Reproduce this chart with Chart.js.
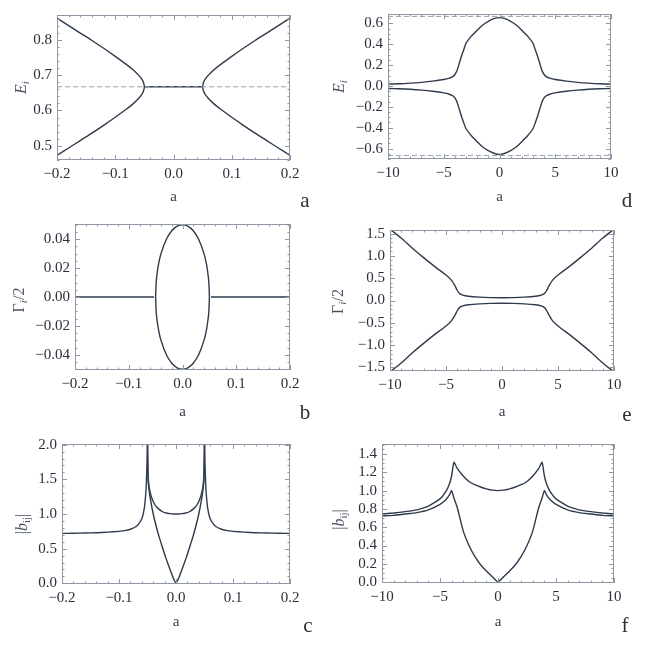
<!DOCTYPE html>
<html><head><meta charset="utf-8">
<script src="https://cdn.jsdelivr.net/npm/chart.js@4.4.0/dist/chart.umd.min.js"></script>
<style>
body{margin:0;background:#fff;width:654px;height:654px;position:relative;overflow:hidden}
canvas{position:absolute}
.lab{position:absolute;font-family:"Liberation Serif","Times New Roman",serif;font-size:21px;color:#2a2f3a;transform:translate(-50%,-50%);line-height:1}
</style></head><body>
<canvas id="pa" width="327" height="210" style="left:0;top:0;width:327px;height:210px"></canvas>
<canvas id="pb" width="327" height="215" style="left:0;top:210px;width:327px;height:215px"></canvas>
<canvas id="pc" width="327" height="205" style="left:0;top:430px;width:327px;height:205px"></canvas>
<canvas id="pd" width="327" height="210" style="left:327px;top:0;width:327px;height:210px"></canvas>
<canvas id="pe" width="327" height="215" style="left:327px;top:210px;width:327px;height:215px"></canvas>
<canvas id="pf" width="327" height="205" style="left:327px;top:430px;width:327px;height:205px"></canvas>
<div class="lab" style="left:305px;top:200px">a</div>
<div class="lab" style="left:305px;top:412px">b</div>
<div class="lab" style="left:308px;top:625px">c</div>
<div class="lab" style="left:627px;top:200px">d</div>
<div class="lab" style="left:627px;top:414px">e</div>
<div class="lab" style="left:625px;top:625px">f</div>
<script>
// ---------- tick labels ----------
const xTicksSmall = [-0.2,-0.1,0.0,0.1,0.2];
const xTicksLarge = [-10,-5,0,5,10];
const yTicksA = [0.5,0.6,0.7,0.8];
const yTicksB = [-0.04,-0.02,0.00,0.02,0.04];
const yTicksC = [0.0,0.5,1.0,1.5,2.0];
const yTicksD = [-0.6,-0.4,-0.2,0.0,0.2,0.4,0.6];
const yTicksE = [-1.5,-1.0,-0.5,0.0,0.5,1.0,1.5];
const yTicksF = [0.0,0.2,0.4,0.6,0.8,1.0,1.2,1.4];

// ---------- panel a : E_i ----------
const aLeftX = [-0.2,-0.18,-0.16,-0.14,-0.12,-0.10,-0.08,-0.07,-0.06,-0.055,-0.052,-0.05,-0.052,-0.055,-0.06,-0.07,-0.08,-0.10,-0.12,-0.14,-0.16,-0.18,-0.2];
const aLeftE = [0.861,0.840,0.819,0.798,0.776,0.753,0.729,0.716,0.700,0.690,0.681,0.667,0.653,0.644,0.634,0.618,0.605,0.581,0.558,0.536,0.515,0.494,0.473];
const aRightX = [0.2,0.18,0.16,0.14,0.12,0.10,0.08,0.07,0.06,0.055,0.052,0.05,0.052,0.055,0.06,0.07,0.08,0.10,0.12,0.14,0.16,0.18,0.2];
const aRightE = [0.861,0.840,0.819,0.798,0.776,0.753,0.729,0.716,0.700,0.690,0.681,0.667,0.653,0.644,0.634,0.618,0.605,0.581,0.558,0.536,0.515,0.494,0.473];
const aMidX = [-0.05,0.05];
const aMidE = [0.667,0.667];
const aRefX = [-0.2,0.2];
const aRefE = [0.667,0.667];

// ---------- panel b : Gamma_i/2 ----------
const bLoopX = [-0.05,-0.049,-0.048,-0.045,-0.04,-0.03,-0.02,-0.01,0,0.01,0.02,0.03,0.04,0.045,0.048,0.049,0.05,0.049,0.048,0.045,0.04,0.03,0.02,0.01,0,-0.01,-0.02,-0.03,-0.04,-0.045,-0.048,-0.049,-0.05];
const bLoopG = [0,0.0099,0.014,0.0218,0.03,0.04,0.0458,0.049,0.05,0.049,0.0458,0.04,0.03,0.0218,0.014,0.0099,0,-0.0099,-0.014,-0.0218,-0.03,-0.04,-0.0458,-0.049,-0.05,-0.049,-0.0458,-0.04,-0.03,-0.0218,-0.014,-0.0099,0];
const bLeftX = [-0.2,-0.053];
const bLeftG = [0,0];
const bRightX = [0.053,0.2];
const bRightG = [0,0];

// ---------- panel c : |b_ij| ----------
const cOutLX = [-0.2,-0.18,-0.16,-0.14,-0.12,-0.10,-0.09,-0.08,-0.07,-0.065,-0.06,-0.057,-0.055,-0.053,-0.052,-0.051,-0.05];
const cOutLY = [0.72,0.722,0.725,0.73,0.738,0.75,0.76,0.78,0.82,0.86,0.93,1.02,1.12,1.3,1.45,1.7,2.0];
const cOutRX = [0.05,0.051,0.052,0.053,0.055,0.057,0.06,0.065,0.07,0.08,0.09,0.10,0.12,0.14,0.16,0.18,0.2];
const cOutRY = [2.0,1.7,1.45,1.3,1.12,1.02,0.93,0.86,0.82,0.78,0.76,0.75,0.738,0.73,0.725,0.722,0.72];
const cInX = [-0.05,-0.049,-0.047,-0.044,-0.04,-0.035,-0.03,-0.025,-0.02,-0.015,-0.01,-0.005,0,0.005,0.01,0.015,0.02,0.025,0.03,0.035,0.04,0.044,0.047,0.049,0.05];
const cInUp = [2.0,1.55,1.38,1.27,1.18,1.11,1.07,1.04,1.02,1.01,1.005,1.001,1.0,1.001,1.005,1.01,1.02,1.04,1.07,1.11,1.18,1.27,1.38,1.55,2.0];
const cInLo = [2.0,1.5,1.33,1.17,1.0,0.83,0.68,0.55,0.42,0.30,0.19,0.08,0,0.08,0.19,0.30,0.42,0.55,0.68,0.83,1.0,1.17,1.33,1.5,2.0];

// ---------- panel d : E_i ----------
const dX = [-10,-9,-8,-7,-6,-5,-4.5,-4.2,-4.0,-3.8,-3.6,-3.4,-3.2,-3.0,-2.5,-2.0,-1.5,-1.0,-0.5,0,0.5,1.0,1.5,2.0,2.5,3.0,3.2,3.4,3.6,3.8,4.0,4.2,4.5,5,6,7,8,9,10];
const dUp = [0.018,0.021,0.027,0.035,0.046,0.062,0.075,0.09,0.11,0.15,0.22,0.29,0.35,0.41,0.48,0.535,0.585,0.62,0.645,0.655,0.645,0.62,0.585,0.535,0.48,0.41,0.35,0.29,0.22,0.15,0.11,0.09,0.075,0.062,0.046,0.035,0.027,0.021,0.018];
const dLo = [-0.024,-0.027,-0.032,-0.040,-0.051,-0.066,-0.079,-0.094,-0.114,-0.155,-0.225,-0.295,-0.355,-0.41,-0.48,-0.535,-0.585,-0.62,-0.645,-0.657,-0.645,-0.62,-0.585,-0.535,-0.48,-0.41,-0.355,-0.295,-0.225,-0.155,-0.114,-0.094,-0.079,-0.066,-0.051,-0.040,-0.032,-0.027,-0.024];
const dRefX = [-10,10];
const dRefUp = [0.667,0.667];
const dRefLo = [-0.667,-0.667];

// ---------- panel e : Gamma_i/2 ----------
const eX = [-10,-9,-8,-7,-6,-5,-4.5,-4.2,-4.0,-3.8,-3.5,-3.0,-2.0,-1.0,0,1.0,2.0,3.0,3.5,3.8,4.0,4.2,4.5,5,6,7,8,9,10];
const eUp = [1.60,1.40,1.17,0.96,0.76,0.57,0.45,0.33,0.23,0.16,0.12,0.095,0.075,0.065,0.062,0.065,0.075,0.095,0.12,0.16,0.23,0.33,0.45,0.57,0.76,0.96,1.17,1.40,1.60];
const eLo = [-1.60,-1.40,-1.17,-0.96,-0.76,-0.57,-0.45,-0.33,-0.23,-0.16,-0.12,-0.095,-0.075,-0.065,-0.062,-0.065,-0.075,-0.095,-0.12,-0.16,-0.23,-0.33,-0.45,-0.57,-0.76,-0.96,-1.17,-1.40,-1.60];

// ---------- panel f : |b_ij| ----------
const fUpX = [-10,-9,-8,-7,-6,-5,-4.5,-4.2,-4.0,-3.8,-3.5,-3.0,-2.5,-2.0,-1.5,-1.0,-0.5,0,0.5,1.0,1.5,2.0,2.5,3.0,3.5,3.8,4.0,4.2,4.5,5,6,7,8,9,10];
const fUpY = [0.745,0.755,0.77,0.79,0.83,0.91,0.99,1.07,1.16,1.31,1.24,1.16,1.10,1.065,1.04,1.02,1.005,1.0,1.005,1.02,1.04,1.065,1.10,1.16,1.24,1.31,1.16,1.07,0.99,0.91,0.83,0.79,0.77,0.755,0.745];
const fLoX = [-10,-9,-8,-7,-6,-5,-4.5,-4.2,-4.0,-3.8,-3.5,-3.0,-2.5,-2.0,-1.5,-1.0,-0.5,0,0.5,1.0,1.5,2.0,2.5,3.0,3.5,3.8,4.0,4.2,4.5,5,6,7,8,9,10];
const fLoY = [0.724,0.73,0.745,0.76,0.79,0.85,0.90,0.95,1.0,0.92,0.81,0.56,0.40,0.28,0.19,0.12,0.06,0,0.06,0.12,0.19,0.28,0.40,0.56,0.81,0.92,1.0,0.95,0.90,0.85,0.79,0.76,0.745,0.73,0.724];

// ---------- styling / helpers ----------
const FONT = '"Liberation Serif","Times New Roman",serif';
const TC = '#2a2f3a';
const LC = '#2f3a4c';
const FRAME = '#8e98a4';

function pts(xs, ys){ return xs.map((x,i)=>({x:x, y:ys[i]})); }
function curve(xs, ys, extra){ return Object.assign({data:pts(xs,ys), showLine:true, pointRadius:0, borderColor:LC, borderWidth:1.4, tension:0.25, fill:false}, extra||{}); }
function dashed(xs, ys){ return curve(xs, ys, {borderColor:'#9a9ea4', borderWidth:1, borderDash:[5,3], tension:0}); }
function fmt(d){ return v => (v < -1e-9 ? '\u2212' : '') + Math.abs(v).toFixed(d); }

const deco = {
  id:'deco',
  afterDatasetsDraw(chart, args, o){
    const {ctx, chartArea:a, scales:{x, y}} = chart;
    ctx.save();
    ctx.strokeStyle = FRAME; ctx.lineWidth = 1;
    ctx.strokeRect(Math.round(a.left)+0.5, Math.round(a.top)+0.5, Math.round(a.right-a.left)-1, Math.round(a.bottom-a.top)-1);
    const seg = (x1,y1,x2,y2)=>{ ctx.beginPath(); ctx.moveTo(x1,y1); ctx.lineTo(x2,y2); ctx.stroke(); };
    const tx = (v,len)=>{ const p = Math.round(x.getPixelForValue(v))+0.5; seg(p,a.bottom,p,a.bottom-len); seg(p,a.top,p,a.top+len); };
    const ty = (v,len)=>{ const p = Math.round(y.getPixelForValue(v))+0.5; seg(a.left,p,a.left+len,p); seg(a.right,p,a.right-len,p); };
    for(let k=Math.ceil(x.min/o.xm-1e-6); k<=Math.floor(x.max/o.xm+1e-6); k++) tx(k*o.xm, 2.5);
    for(let k=Math.ceil(y.min/o.ym-1e-6); k<=Math.floor(y.max/o.ym+1e-6); k++) ty(k*o.ym, 2.5);
    x.ticks.forEach(t=>tx(t.value,5));
    y.ticks.forEach(t=>ty(t.value,5));
    // y axis label with subscripts
    ctx.translate(o.lx, (a.top+a.bottom)/2 + (o.ldy||0));
    ctx.rotate(-Math.PI/2);
    ctx.fillStyle = '#4a5468';
    ctx.textBaseline = 'middle';
    ctx.textAlign = 'left';
    const fontOf = p => (p.it ? 'italic ' : '') + (p.sub ? 11 : 16) + 'px ' + FONT;
    let w = 0;
    o.parts.forEach(p=>{ ctx.font = fontOf(p); w += ctx.measureText(p.t).width; });
    let cx = -w/2;
    o.parts.forEach(p=>{ ctx.font = fontOf(p); ctx.fillText(p.t, cx, p.sub ? 4 : 0); cx += ctx.measureText(p.t).width; });
    ctx.restore();
  }
};

function panel(id, cfg){
  return new Chart(document.getElementById(id), {
    type:'scatter',
    data:{datasets:cfg.ds},
    plugins:[deco],
    options:{
      responsive:false, animation:false,
      layout:{padding:{left:0, top:cfg.pt, right:cfg.pr, bottom:0}},
      plugins:{legend:{display:false}, tooltip:{enabled:false},
        deco:{xm:cfg.xm, ym:cfg.ym, lx:cfg.lx, ldy:cfg.ldy, parts:cfg.parts}},
      scales:{
        x:{type:'linear', min:cfg.xr[0], max:cfg.xr[1],
           afterFit:s=>{s.height=cfg.xh;},
           afterBuildTicks:s=>{s.ticks=cfg.xt.map(v=>({value:v}));},
           grid:{display:false, drawTicks:false, tickLength:0}, border:{display:false},
           ticks:{font:{family:FONT,size:15}, color:TC, padding:5, maxRotation:0, autoSkip:false, callback:fmt(cfg.xd)},
           title:{display:true, text:'a', font:{family:FONT,size:15}, color:'#3a4050', padding:{top:0,bottom:cfg.tb||4}}},
        y:{type:'linear', min:cfg.yr[0], max:cfg.yr[1],
           afterFit:s=>{s.width=cfg.yw;},
           afterBuildTicks:s=>{s.ticks=cfg.yt.map(v=>({value:v}));},
           grid:{display:false, drawTicks:false, tickLength:0}, border:{display:false},
           ticks:{font:{family:FONT,size:15}, color:TC, padding:5, autoSkip:false, callback:fmt(cfg.yd)}}
      }
    }
  });
}

const E_i = [{t:'E',it:true},{t:'i',it:true,sub:true}];
const G_i = [{t:'\u0393'},{t:'i',it:true,sub:true},{t:'/2'}];
const B_ij = [{t:'|'},{t:'b',it:true},{t:'ij',sub:true},{t:'|'}];

panel('pa', {ds:[dashed(aRefX,aRefE), curve(aLeftX,aLeftE), curve(aRightX,aRightE), curve(aMidX,aMidE,{tension:0})],
  pt:15, pr:37, yw:57, xh:50, xr:[-0.2,0.2], yr:[0.46,0.87], xt:xTicksSmall, yt:yTicksA, xd:1, yd:1, xm:0.02, ym:0.02, lx:22, ldy:0, parts:E_i});
panel('pb', {ds:[curve(bLeftX,bLeftG,{tension:0}), curve(bRightX,bRightG,{tension:0}), curve(bLoopX,bLoopG)],
  pt:14, pr:37, yw:75, xh:55, xr:[-0.2,0.2], yr:[-0.0505,0.0505], xt:xTicksSmall, yt:yTicksB, xd:1, yd:2, xm:0.02, ym:0.005, lx:20, ldy:3, parts:G_i});
panel('pc', {ds:[curve(cOutLX,cOutLY,{tension:0.15}), curve(cOutRX,cOutRY,{tension:0.15}), curve(cInX,cInUp,{tension:0.15}), curve(cInX,cInLo,{tension:0.15})],
  pt:13, pr:37, yw:62, xh:51, xr:[-0.2,0.2], yr:[-0.01,2.01], xt:xTicksSmall, yt:yTicksC, xd:1, yd:1, xm:0.02, ym:0.1, lx:23, ldy:10, parts:B_ij});
panel('pd', {ds:[dashed(dRefX,dRefUp), dashed(dRefX,dRefLo), curve(dX,dUp), curve(dX,dLo)],
  pt:13, pr:43, yw:61, xh:51, xr:[-10,10], yr:[-0.7,0.69], xt:xTicksLarge, yt:yTicksD, xd:0, yd:1, xm:1, ym:0.05, lx:13, ldy:0, parts:E_i});
panel('pe', {ds:[curve(eX,eUp), curve(eX,eLo)],
  pt:20, pr:40, yw:63, xh:54, xr:[-10,10], yr:[-1.58,1.58], xt:xTicksLarge, yt:yTicksE, xd:0, yd:1, xm:1, ym:0.1, lx:12, ldy:1, parts:G_i});
panel('pf', {ds:[curve(fUpX,fUpY,{tension:0.15}), curve(fLoX,fLoY,{tension:0.15})],
  pt:9, pr:40, yw:55, xh:52, xr:[-10,10], yr:[-0.01,1.51], xt:xTicksLarge, yt:yTicksF, xd:0, yd:1, xm:1, ym:0.05, lx:13, ldy:6, parts:B_ij});
</script>
</body></html>
